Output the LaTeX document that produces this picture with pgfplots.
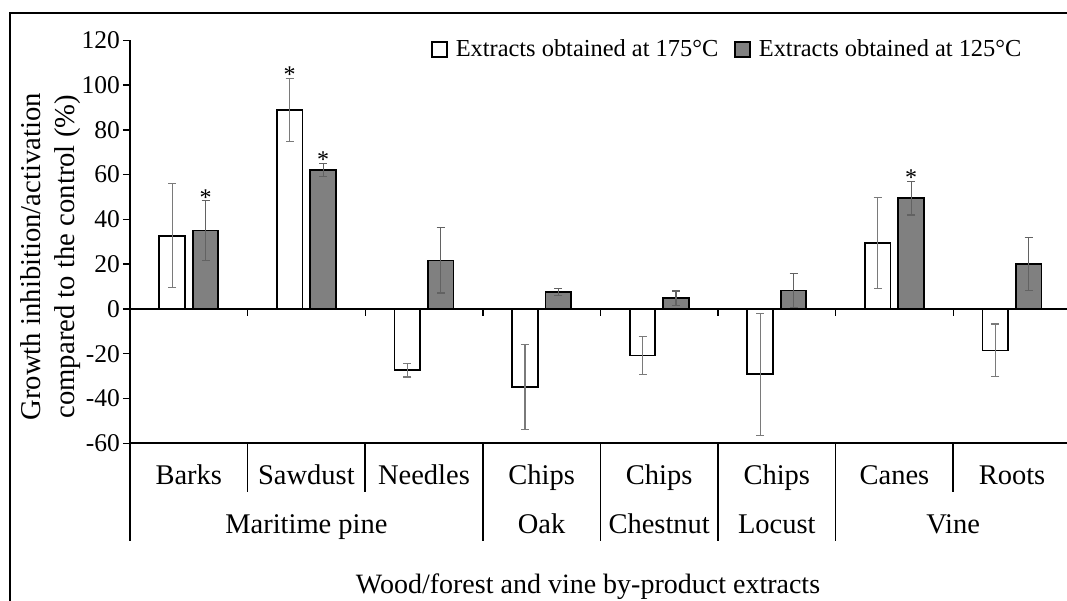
\documentclass[border=0pt]{standalone}
\usepackage{pgfplots}
\pgfplotsset{compat=1.18}
\usepackage{fontspec}
\setmainfont{Liberation Serif}
\definecolor{bargray}{HTML}{808080}
\definecolor{errgray}{HTML}{7A7A7A}
\begin{document}
\begin{tikzpicture}[x=1pt,y=1pt]
\begin{axis}[
  at={(130pt,-443.3pt)}, anchor=south west,
  scale only axis, width=940.8pt, height=403pt,
  xmin=0, xmax=8, ymin=-60, ymax=120,
  axis x line=bottom, axis y line=left,
  axis line style={-, line width=1.8pt, black},
  xtick=\empty,
  ytick={-60,-40,...,120},
  tick align=outside, major tick length=7pt,
  ytick style={line width=1.4pt, black},
  yticklabel style={font=\fontsize{25.5}{30}\selectfont, inner sep=3pt},
  /pgf/number format/assume math mode=true,
  clip=false,
  legend columns=2,
  legend style={draw=none, fill=none, at={(axis description cs:0.3199,0.9784)}, anchor=west,
    font=\fontsize{24.4}{29}\selectfont, inner sep=0pt,
    /tikz/every odd column/.append style={column sep=6pt},
    /tikz/every even column/.append style={column sep=14pt}},
]
\addplot[ybar, bar width=25.6pt, bar shift=0pt, fill=white, draw=black, line width=1.7pt,
  legend image code/.code={\draw[black, fill=white, line width=1.6pt] (0pt,-8pt) rectangle (15pt,7pt);},
  error bars/.cd, y dir=both, y explicit,
  error bar style={line width=1.2pt, errgray},
  error mark options={rotate=90, mark size=4pt, line width=1.2pt, errgray}]
coordinates {
 (0.358,32.7) +- (0,23.2)
 (1.358,88.9) +- (0,14.1)
 (2.358,-27.4) +- (0,3.0)
 (3.358,-34.7) +- (0,19.0)
 (4.358,-20.8) +- (0,8.4)
 (5.358,-29.2) +- (0,27.2)
 (6.358,29.5) +- (0,20.2)
 (7.358,-18.5) +- (0,11.8)
};
\addlegendentry{Extracts obtained at 175°C}
\addplot[ybar, bar width=25.6pt, bar shift=0pt, fill=bargray, draw=black, line width=1.7pt,
  legend image code/.code={\draw[black, fill=bargray, line width=1.6pt] (0pt,-8pt) rectangle (15pt,7pt);},
  error bars/.cd, y dir=both, y explicit,
  error bar style={line width=1.2pt, errgray!80!black},
  error mark options={rotate=90, mark size=4pt, line width=1.2pt, errgray!80!black}]
coordinates {
 (0.642,35.1) +- (0,13.3)
 (1.642,62.1) +- (0,2.8)
 (2.642,21.7) +- (0,14.6)
 (3.642,7.5) +- (0,1.6)
 (4.642,4.8) +- (0,3.2)
 (5.642,8.2) +- (0,7.5)
 (6.642,49.5) +- (0,7.5)
 (7.642,20.1) +- (0,11.7)
};
\addlegendentry{Extracts obtained at 125°C}
\addplot[only marks, mark=none, forget plot,
  nodes near coords={*},
  nodes near coords style={anchor=base, inner sep=0pt, yshift=-4pt, font=\fontsize{24}{24}\selectfont, black}]
coordinates {(0.642,48.1) (1.358,102.9) (1.642,65.0) (6.642,57.0)};
\end{axis}
% zero line with boundary ticks
\draw[line width=1.4pt] (130,-309) -- (1072,-309);
\foreach \i in {1,...,7} {\draw[line width=1.4pt] ({130+117.6*\i},-309) -- ++(0,-7);}
% category separators
\foreach \i in {1,2,7} {\draw[line width=1.6pt] ({130+117.6*\i},-443.3) -- ++(0,-48.4);}
\foreach \i in {0,3,4,5,6,8} {\draw[line width=1.6pt] ({130+117.6*\i},-443.3) -- ++(0,-97.4);}
% category labels
\begin{scope}[every node/.style={anchor=base, inner sep=0pt, font=\fontsize{28.5}{34}\selectfont}]
\node at (188.8,-484) {Barks};
\node at (306.4,-484) {Sawdust};
\node at (424.0,-484) {Needles};
\node at (541.6,-484) {Chips};
\node at (659.2,-484) {Chips};
\node at (776.8,-484) {Chips};
\node at (894.4,-484) {Canes};
\node at (1012.0,-484) {Roots};
\node at (306.4,-533) {Maritime pine};
\node at (541.6,-533) {Oak};
\node at (659.2,-533) {Chestnut};
\node at (776.8,-533) {Locust};
\node at (953.2,-533) {Vine};
\node[font=\fontsize{28}{34}\selectfont] at (588,-593) {Wood/forest and vine by-product extracts};
\end{scope}
\node[rotate=90, align=center, inner sep=0pt, font=\fontsize{28.7}{34}\selectfont] at (51,-256.7)
  {Growth inhibition/activation\\compared to the control (\%)};
% frame
\draw[line width=2pt] (10,-602) -- (10,-13) -- (1068,-13);
\pgfresetboundingbox
\path[use as bounding box] (0,0) rectangle (1067,-601);
\end{tikzpicture}
\end{document}
